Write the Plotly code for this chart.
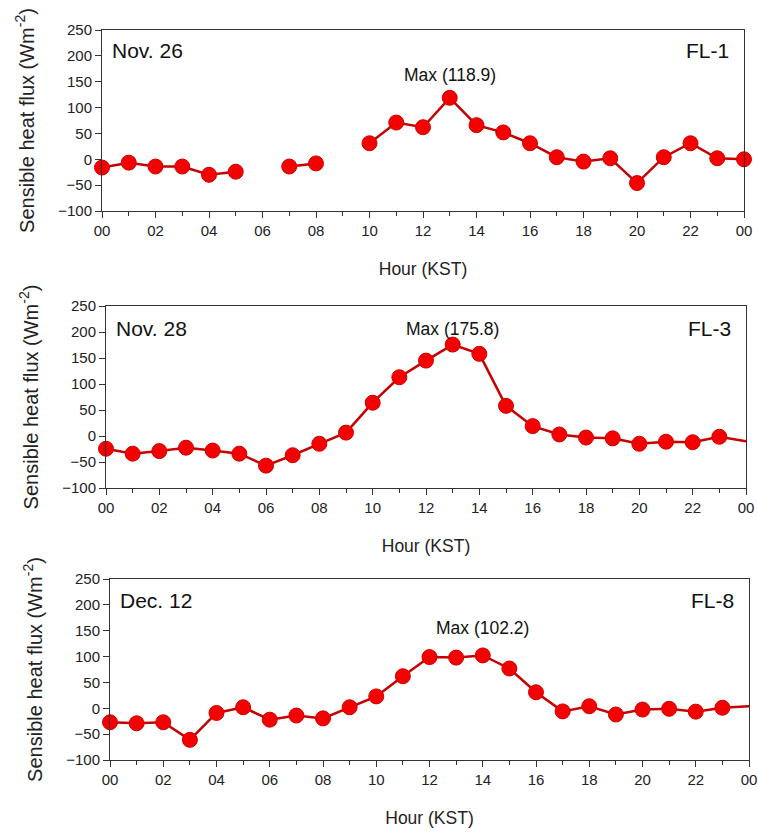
import plotly.graph_objects as go

hours = list(range(25))
hour_ticks = list(range(0, 25, 2))
hour_labels = ["00", "02", "04", "06", "08", "10", "12", "14", "16", "18", "20", "22", "00"]
y_ticks = [-100, -50, 0, 50, 100, 150, 200, 250]

flux_nov26 = [-16, -6.5, -14, -14, -30, -24, None, -14, -8, None, 31, 71, 62, 118.9,
              66, 52, 31, 4, -4.5, 2, -46, 4, 31, 2, 0]
flux_nov28 = [-24.5, -34, -29, -22.5, -28, -34, -57, -37, -15, 6.5, 64, 113, 145, 175.8,
              158, 58, 19, 3, -3, -4.5, -15, -11, -12, -1.5, -10]
flux_dec12 = [-27, -29, -27, -61, -9, 2, -22, -14, -19.5, 2, 23, 62, 99, 98,
              102.2, 77, 31, -6, 4, -12, -2.5, -1, -6.5, 1, 4]

panels = [
    dict(y=flux_nov26, date="Nov. 26", site="FL-1", maxlab="Max (118.9)", maxx=13, maxy=163,
         datey=211, marker_last=True),
    dict(y=flux_nov28, date="Nov. 28", site="FL-3", maxlab="Max (175.8)", maxx=13, maxy=206,
         datey=206, marker_last=False),
    dict(y=flux_dec12, date="Dec. 12", site="FL-8", maxlab="Max (102.2)", maxx=14, maxy=156,
         datey=208, marker_last=False),
]

W, H = 758, 834
# pixel boxes of plot areas (left, right, top, bottom)
boxes = [(102, 744, 30, 211), (106, 746, 306, 488), (110, 749, 579, 760)]

FONT = "Liberation Sans, Arial, sans-serif"
AX = "#333333"

fig = go.Figure()
layout = dict(width=W, height=H, margin=dict(l=0, r=0, t=0, b=0),
              paper_bgcolor="white", plot_bgcolor="white", showlegend=False,
              annotations=[])

for i, (p, (l, r, t, b)) in enumerate(zip(panels, boxes)):
    n = "" if i == 0 else str(i + 1)
    sizes = [15] * len(hours)
    if not p["marker_last"]:
        sizes[-1] = 0
    fig.add_trace(go.Scatter(
        x=hours, y=p["y"], xaxis="x" + n, yaxis="y" + n, mode="lines+markers",
        line=dict(color="#c40000", width=2.5),
        marker=dict(size=sizes, color="#f50000", opacity=1,
                    line=dict(color="#d00000", width=1)),
        connectgaps=False, cliponaxis=False,
    ))
    xd = [l / W, r / W]
    yd = [1 - b / H, 1 - t / H]
    layout["xaxis" + n] = dict(
        domain=xd, anchor="y" + n, range=[0, 24], tickmode="array",
        tickvals=hour_ticks, ticktext=hour_labels, ticks="outside", ticklen=6,
        tickwidth=1, tickcolor=AX, showline=True, linecolor=AX, linewidth=1,
        mirror=True, showgrid=False, zeroline=False,
        tickfont=dict(family=FONT, size=15, color="#222"),
        ticklabeloverflow="allow",
        minor=dict(dtick=1, tick0=0, ticks="outside", ticklen=4, tickcolor=AX, showgrid=False),
        title=dict(text="Hour (KST)", font=dict(family=FONT, size=17.5, color="#222"), standoff=24),
        automargin=False,
    )
    layout["yaxis" + n] = dict(
        domain=yd, anchor="x" + n, range=[-100, 250], tickmode="array",
        tickvals=y_ticks, ticks="outside", ticklen=6, tickwidth=1, tickcolor=AX,
        showline=True, linecolor=AX, linewidth=1, mirror=True, showgrid=False,
        zeroline=False, tickfont=dict(family=FONT, size=15, color="#222"),
        title=dict(text="Sensible heat flux (Wm<sup>-2</sup>)",
                   font=dict(family=FONT, size=20, color="#222"), standoff=18),
        automargin=False,
    )
    xr, yr = "x" + n, "y" + n
    layout["annotations"] += [
        dict(text=p["date"], xref=xr + " domain", yref=yr, x=0.012, y=p["datey"],
             xanchor="left", yanchor="middle", showarrow=False,
             font=dict(family=FONT, size=21, color="#111")),
        dict(text=p["site"], xref=xr + " domain", yref=yr, x=0.98, y=p["datey"],
             xanchor="right", yanchor="middle", showarrow=False,
             font=dict(family=FONT, size=21, color="#111")),
        dict(text=p["maxlab"], xref=xr, yref=yr, x=p["maxx"], y=p["maxy"],
             xanchor="center", yanchor="middle", showarrow=False,
             font=dict(family=FONT, size=17.5, color="#111")),
    ]

fig.update_layout(**layout)
fig.write_html("out.html", config={"displayModeBar": False},
               post_script="document.body.style.margin='0px';")
